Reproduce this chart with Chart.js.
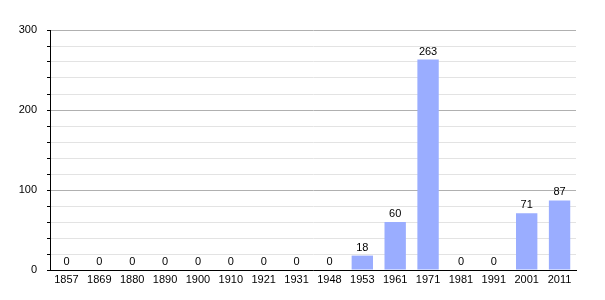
<!DOCTYPE html>
<html><head><meta charset="utf-8">
<script src="https://cdn.jsdelivr.net/npm/chart.js@4"></script>
<style>html,body{margin:0;padding:0;background:#fff}#wrap{width:605px;height:300px}</style>
</head><body><div id="wrap"><canvas id="c" width="605" height="300"></canvas></div>
<script>
const years = ["1857","1869","1880","1890","1900","1910","1921","1931","1948","1953","1961","1971","1981","1991","2001","2011"];
const population = [0,0,0,0,0,0,0,0,0,18,60,263,0,0,71,87];
const yTickLabels = [0,100,200,300];

const labelPlugin = {
  id:'vals',
  afterDatasetsDraw(chart){
    const ctx = chart.ctx;
    const meta = chart.getDatasetMeta(0);
    ctx.save();
    ctx.fillStyle = '#000';
    ctx.font = '11px "Liberation Sans", Arial, sans-serif';
    ctx.textAlign = 'center';
    ctx.textBaseline = 'middle';
    meta.data.forEach((bar,i)=>{
      ctx.fillText(String(population[i]), bar.x, bar.y - 8);
    });
    ctx.restore();
  }
};

new Chart(document.getElementById('c'), {
  type:'bar',
  data:{labels:years, datasets:[{data:population, backgroundColor:'#9aadff', borderWidth:0, barPercentage:0.65, categoryPercentage:1}]},
  options:{
    responsive:false, animation:false, devicePixelRatio:1,
    layout:{padding:{left:0,right:29,top:30,bottom:0}},
    plugins:{legend:{display:false}, tooltip:{enabled:false}},
    scales:{
      x:{
        grid:{display:false, drawTicks:false},
        border:{color:'#000', width:1},
        ticks:{color:'#000', padding:3, maxRotation:0, autoSkip:false, font:{size:11, family:'"Liberation Sans", Arial, sans-serif'}},
        afterFit(s){ s.height = 30; }
      },
      y:{
        min:0, max:300,
        border:{color:'#000', width:1},
        grid:{
          color:(c)=> (c.tick && yTickLabels.includes(c.tick.value)) ? '#b0b0b0' : '#e3e3e3',
          tickColor:'#000', tickLength:3, lineWidth:1
        },
        ticks:{stepSize:20, autoSkip:false, color:'#000', padding:10,
          callback:(v)=> yTickLabels.includes(v) ? String(v) : '',
          font:{size:11, family:'"Liberation Sans", Arial, sans-serif'}},
        afterFit(s){ s.width = 50; }
      }
    }
  },
  plugins:[labelPlugin]
});
</script></body></html>
